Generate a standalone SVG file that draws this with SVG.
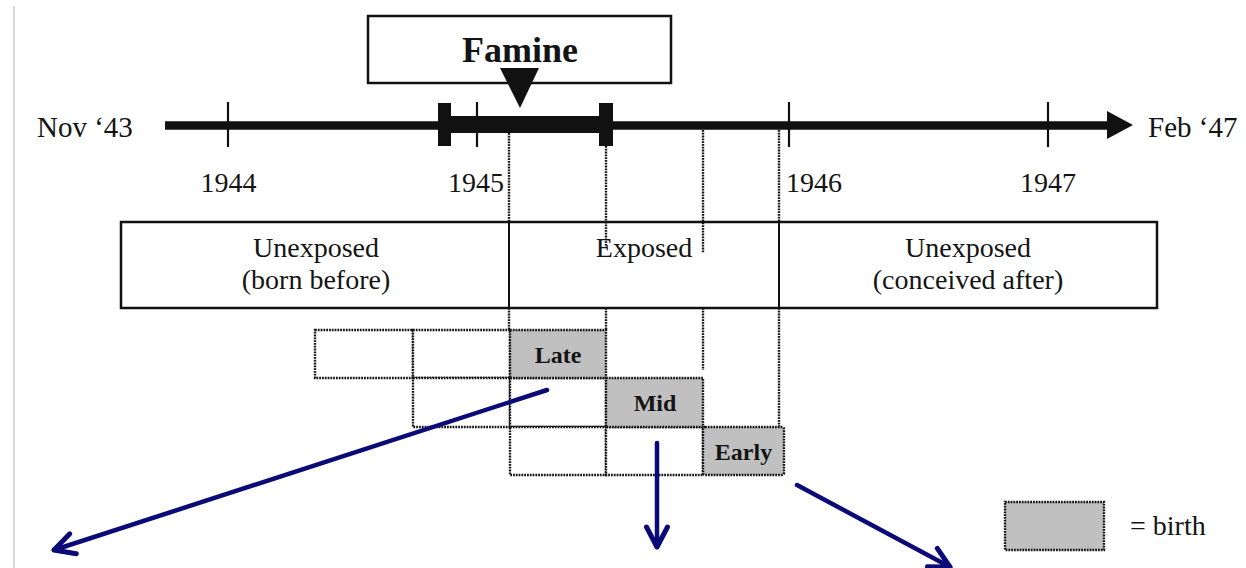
<svg xmlns="http://www.w3.org/2000/svg" width="1246" height="568" viewBox="0 0 1246 568">
  <style>
    .t { font-family: "Liberation Serif", "Times New Roman", serif; fill: #141414; }
    .lbl { font-size: 28px; }
    .b { font-weight: bold; }
    .dot { stroke: #151515; stroke-width: 2.4; stroke-dasharray: 1.8 1; fill: none; }
    .cell { stroke: #151515; stroke-width: 2.4; stroke-dasharray: 1.8 1; fill: #ffffff; }
    .birth { stroke: #151515; stroke-width: 2.4; stroke-dasharray: 1.8 1; fill: #c0c0c0; }
    .tick { stroke: #111; stroke-width: 2.2; }
    .blue { stroke: #0b0b78; stroke-width: 4.5; fill: none; stroke-linecap: round; }
  </style>
  <defs>
    <marker id="openArrow" markerUnits="userSpaceOnUse" viewBox="-26 -14 30 28" refX="0" refY="0" markerWidth="30" markerHeight="28" orient="auto">
      <path d="M -20 -10.5 L 0 0 L -20 10.5" fill="none" stroke="#0b0b78" stroke-width="5" stroke-linecap="round" stroke-linejoin="round"/>
    </marker>
  </defs>
  <rect width="1246" height="568" fill="#ffffff"/>
  <line x1="14" y1="6" x2="14" y2="568" stroke="#cfcfcf" stroke-width="1.5"/>

  <g id="famine">
    <rect x="368" y="16" width="303" height="67" fill="#fff" stroke="#111" stroke-width="2.5"/>
    <text class="t b" x="520" y="62" font-size="36" text-anchor="middle">Famine</text>
    <polygon points="500,68 539,68 520,108" fill="#111"/>
  </g>

  <g id="timeline">
    <line x1="165" y1="125.5" x2="1110" y2="125.5" stroke="#111" stroke-width="8.5"/>
    <polygon points="1107,111 1133,125 1107,139" fill="#111"/>
    <rect x="450" y="116" width="150" height="17" fill="#111"/>
    <rect x="438" y="103" width="13" height="43" fill="#111"/>
    <rect x="599" y="103" width="14" height="43" fill="#111"/>
    <line class="tick" x1="228" y1="102" x2="228" y2="147"/>
    <line class="tick" x1="477" y1="102" x2="477" y2="147"/>
    <line class="tick" x1="789" y1="102" x2="789" y2="147"/>
    <line class="tick" x1="1048" y1="102" x2="1048" y2="147"/>
    <text class="t" x="37" y="137" font-size="29">Nov ‘43</text>
    <text class="t" x="1148" y="137" font-size="29">Feb ‘47</text>
    <text class="t lbl" x="228.5" y="192" text-anchor="middle">1944</text>
    <text class="t lbl" x="476" y="192" text-anchor="middle">1945</text>
    <text class="t lbl" x="814" y="192" text-anchor="middle">1946</text>
    <text class="t lbl" x="1048" y="192" text-anchor="middle">1947</text>
  </g>

  <g id="guides">
    <line class="dot" x1="509" y1="133" x2="509" y2="222"/>
    <line class="dot" x1="606" y1="146" x2="606" y2="248"/>
    <line class="dot" x1="703" y1="130" x2="703" y2="253"/>
    <line class="dot" x1="779" y1="130" x2="779" y2="222"/>
    <line class="dot" x1="509" y1="308" x2="509" y2="330"/>
    <line class="dot" x1="606" y1="308" x2="606" y2="330"/>
    <line class="dot" x1="703" y1="308" x2="703" y2="370"/>
    <line class="dot" x1="779" y1="308" x2="779" y2="427"/>
  </g>

  <g id="exposure-box">
    <rect x="121" y="222" width="1036" height="86" fill="none" stroke="#111" stroke-width="2.5"/>
    <line x1="509" y1="222" x2="509" y2="308" stroke="#111" stroke-width="2"/>
    <line x1="779" y1="222" x2="779" y2="308" stroke="#111" stroke-width="2"/>
    <text class="t lbl" x="316" y="257" text-anchor="middle">Unexposed</text>
    <text class="t lbl" x="316" y="289" text-anchor="middle">(born before)</text>
    <text class="t lbl" x="644" y="257" text-anchor="middle">Exposed</text>
    <text class="t lbl" x="968" y="257" text-anchor="middle">Unexposed</text>
    <text class="t lbl" x="968" y="289" text-anchor="middle">(conceived after)</text>
  </g>

  <g id="cohort-grid">
    <rect class="cell" x="315" y="330" width="98" height="48"/>
    <rect class="cell" x="413" y="330" width="97" height="48"/>
    <rect class="cell" x="413" y="378" width="97" height="49"/>
    <rect class="cell" x="510" y="378" width="96" height="49"/>
    <rect class="cell" x="510" y="427" width="96" height="48"/>
    <rect class="cell" x="606" y="427" width="97" height="48"/>
  </g>

  <g id="late">
    <rect class="birth" x="510" y="330" width="96" height="48"/>
    <text class="t b" x="558" y="363" font-size="24" text-anchor="middle">Late</text>
  </g>
  <g id="mid">
    <rect class="birth" x="606" y="378" width="97" height="49"/>
    <text class="t b" x="655" y="411" font-size="24" text-anchor="middle">Mid</text>
  </g>
  <g id="early">
    <rect class="birth" x="703" y="427" width="81" height="48" rx="2"/>
    <text class="t b" x="743.5" y="460" font-size="24" text-anchor="middle">Early</text>
  </g>

  <g id="legend">
    <rect class="birth" x="1005" y="502" width="99" height="48"/>
    <text class="t lbl" x="1130" y="535">= birth</text>
  </g>

  <g id="connectors">
    <path class="blue" d="M547,390 L54,550" marker-end="url(#openArrow)"/>
    <path class="blue" d="M657,443 L657,547" marker-end="url(#openArrow)"/>
    <path class="blue" d="M797,485 L950,567" marker-end="url(#openArrow)"/>
  </g>
</svg>
